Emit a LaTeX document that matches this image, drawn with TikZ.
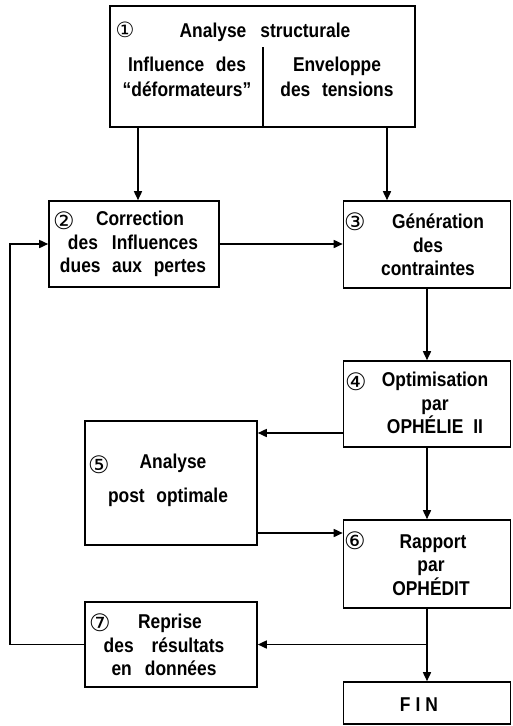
\documentclass[tikz,border=0pt]{standalone}
\usepackage{fontspec}
\usetikzlibrary{arrows.meta}
\newfontfamily\dfont{Liberation Sans}[FakeStretch=0.87,WordSpace=2.4]
\newfontfamily\cfont{DejaVu Sans}
\tikzset{
  box/.style={draw,line width=1.6pt,rectangle,inner sep=0pt},
  lbl/.style={inner sep=0pt,align=center,font=\dfont\bfseries\fontsize{20}{23.5}\selectfont},
  num/.style={inner sep=0pt,font=\cfont\mdseries\fontsize{24}{24}\selectfont},
  conn/.style={line width=1.6pt},
  arr/.style={line width=1.6pt,-{Triangle[length=9pt,width=8pt]}}
}
\begin{document}
\begin{tikzpicture}[x=1pt,y=-1pt]
\useasboundingbox (0,0) rectangle (512,726);
% box 1
\node[box,minimum width=305pt,minimum height=121pt] (b1) at (262.5,66.5) {};
\coordinate (d1) at (263,47);
\draw[conn] (d1) -- (d1 |- b1.south);
\node[num,font=\cfont\mdseries\fontsize{21}{21}\selectfont] (c1) at (125,30) {①};
\node[lbl,anchor=base] (t1) at (265,37) {Analyse\hspace{14pt}structurale};
\node[lbl,anchor=base] (t1a) at (187,96) {Influence des\\[1.5pt]“déformateurs”};
\node[lbl,anchor=base] (t1b) at (337,96) {Enveloppe\\[1.5pt]des tensions};
% box 2
\node[box,minimum width=170pt,minimum height=86pt] (b2) at (134,244) {};
\node[num] (c2) at (64,221) {②};
\node[lbl] (t2) at (133,244) {\hspace{14pt}Correction\\des\hspace{14pt}Influences\\dues aux pertes};
% box 3
\node[box,minimum width=167pt,minimum height=87pt] (b3) at (427,244.5) {};
\node[num] (c3) at (355,222) {③};
\node[lbl] (t3) at (428,245) {\hspace{20pt}Génération\\des\\contraintes};
% box 4
\node[box,minimum width=167pt,minimum height=86pt] (b4) at (427,404) {};
\node[num] (c4) at (356,382) {④};
\node[lbl] (t4) at (435,403) {Optimisation\\par\\OPHÉLIE\hspace{10pt}II};
% box 5
\node[box,minimum width=172pt,minimum height=124pt] (b5) at (171,483) {};
\node[num] (c5) at (99,465) {⑤};
\node[lbl] (t5a) at (173,463) {Analyse};
\node[lbl] (t5b) at (168,497) {post optimale};
% box 6
\node[box,minimum width=167pt,minimum height=88pt] (b6) at (427,564) {};
\node[num] (c6) at (355,541) {⑥};
\node[lbl] (t6) at (431,565) {\hspace{4pt}Rapport\\par\\OPHÉDIT};
% box 7
\node[box,minimum width=172pt,minimum height=85pt] (b7) at (171,644.5) {};
\node[num] (c7) at (100,623) {⑦};
\node[lbl] (t7) at (164,645) {\hspace{12pt}Reprise\\des\hspace{18pt}résultats\\en\hspace{13pt}données};
% FIN
\node[box,minimum width=167pt,minimum height=42pt] (fin) at (427,703) {};
\node[lbl] (tfin) at (419,705) {F\hspace{5pt}I\hspace{5pt}N};
% connectors
\draw[arr] ([xshift=4pt]b2.north |- b1.south) -- ([xshift=4pt]b2.north);
\draw[arr] ([xshift=-40pt]b3.north |- b1.south) -- ([xshift=-40pt]b3.north);
\draw[arr] (b2.east) -- (b2.east -| b3.west);
\draw[arr] (b3.south) -- (b4.north);
\draw[arr] ([yshift=-29pt]b4.west) -- ([yshift=-29pt]b4.west -| b5.east);
\draw[arr] (b4.south) -- (b6.north);
\draw[arr] ([yshift=31pt]b6.west -| b5.east) -- ([yshift=31pt]b6.west);
\coordinate (j) at (b6.south |- b7.east);
\draw[arr] (b6.south) -- (fin.north);
\draw[arr] (j) -- (b7.east);
\coordinate (fb) at (10,400);
\draw[arr] (b7.west) -- (b7.west -| fb) -- (fb |- b2.west) -- (b2.west);
\end{tikzpicture}
\end{document}
